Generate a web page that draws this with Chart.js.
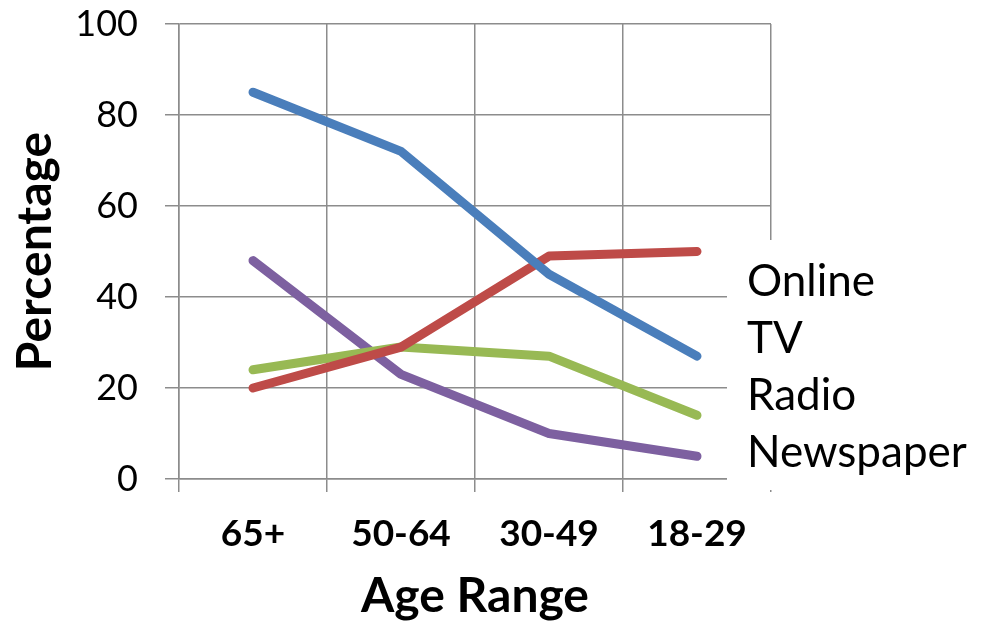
<!DOCTYPE html>
<html>
<head>
<meta charset="utf-8">
<script src="https://cdn.jsdelivr.net/npm/chart.js@4.4.1/dist/chart.umd.min.js"></script>
<style>
  html, body { margin: 0; padding: 0; background: #ffffff; }
  #wrap { width: 981px; height: 625px; position: relative; }
</style>
</head>
<body>
<div id="wrap"><canvas id="c" width="981" height="625"></canvas></div>
<script>
// Share of each age group that often gets news from each platform (%)
const ageRanges = ['65+', '50-64', '30-49', '18-29'];
const tvValues = [85, 72, 45, 27];
const onlineValues = [20, 29, 49, 50];
const radioValues = [24, 29, 27, 14];
const newspaperValues = [48, 23, 10, 5];
const yTicks = [0, 20, 40, 60, 80, 100];
const legendOrder = ['Online', 'TV', 'Radio', 'Newspaper'];

const FONT = 'Lato, "Open Sans", sans-serif';
const GRID = '#8c8c8c';

// Text-only legend on a white panel to the right of the last points
const sideLegend = {
  id: 'sideLegend',
  afterDraw(chart) {
    const ctx = chart.ctx;
    ctx.save();
    ctx.fillStyle = '#ffffff';
    ctx.fillRect(727, 240, 254, 250);
    ctx.fillStyle = '#000000';
    ctx.font = '44px ' + FONT;
    ctx.textAlign = 'left';
    ctx.textBaseline = 'alphabetic';
    legendOrder.forEach((name, i) => {
      ctx.fillText(name, 747, 296 + i * 57);
    });
    ctx.restore();
  }
};

const line = (label, data, color) => ({
  label, data,
  borderColor: color,
  backgroundColor: color,
  borderWidth: 9,
  borderCapStyle: 'round',
  borderJoinStyle: 'round',
  pointRadius: 0,
  pointHoverRadius: 0,
  tension: 0,
  fill: false
});

new Chart(document.getElementById('c'), {
  type: 'line',
  data: {
    labels: ageRanges,
    datasets: [
      line('TV', tvValues, '#4a7ebb'),
      line('Online', onlineValues, '#be4b48'),
      line('Radio', radioValues, '#98b954'),
      line('Newspaper', newspaperValues, '#7d60a0')
    ]
  },
  options: {
    responsive: false,
    animation: false,
    layout: { padding: { top: 0, right: 210, left: 0, bottom: 0 } },
    plugins: {
      legend: { display: false },
      tooltip: { enabled: false }
    },
    scales: {
      x: {
        offset: true,
        grid: { offset: true, color: GRID, lineWidth: 1.5, tickLength: 13, drawTicks: true },
        border: { color: GRID, width: 1.5 },
        ticks: { color: '#000', padding: 20, font: { family: FONT, size: 37, weight: 'bold' } },
        title: {
          display: true, text: 'Age Range', color: '#000',
          font: { family: FONT, size: 48, weight: 'bold' },
          padding: { top: 0, bottom: 0 }
        },
        afterFit(scale) { scale.height = 625 - 479; }
      },
      y: {
        min: 0, max: 100,
        afterBuildTicks(scale) { scale.ticks = yTicks.map(v => ({ value: v })); },
        grid: { color: GRID, lineWidth: 1.5, tickLength: 14 },
        border: { color: GRID, width: 1.5 },
        ticks: { color: '#000', padding: 27, font: { family: FONT, size: 36 } },
        title: {
          display: true, text: 'Percentage', color: '#000',
          font: { family: FONT, size: 48, weight: 'bold' },
          padding: { top: 7, bottom: 0 }
        },
        afterFit(scale) {
          scale.width = 179;
          scale.paddingTop = 24;
          scale.paddingBottom = 0;
        }
      }
    }
  },
  plugins: [sideLegend]
});
</script>
</body>
</html>
